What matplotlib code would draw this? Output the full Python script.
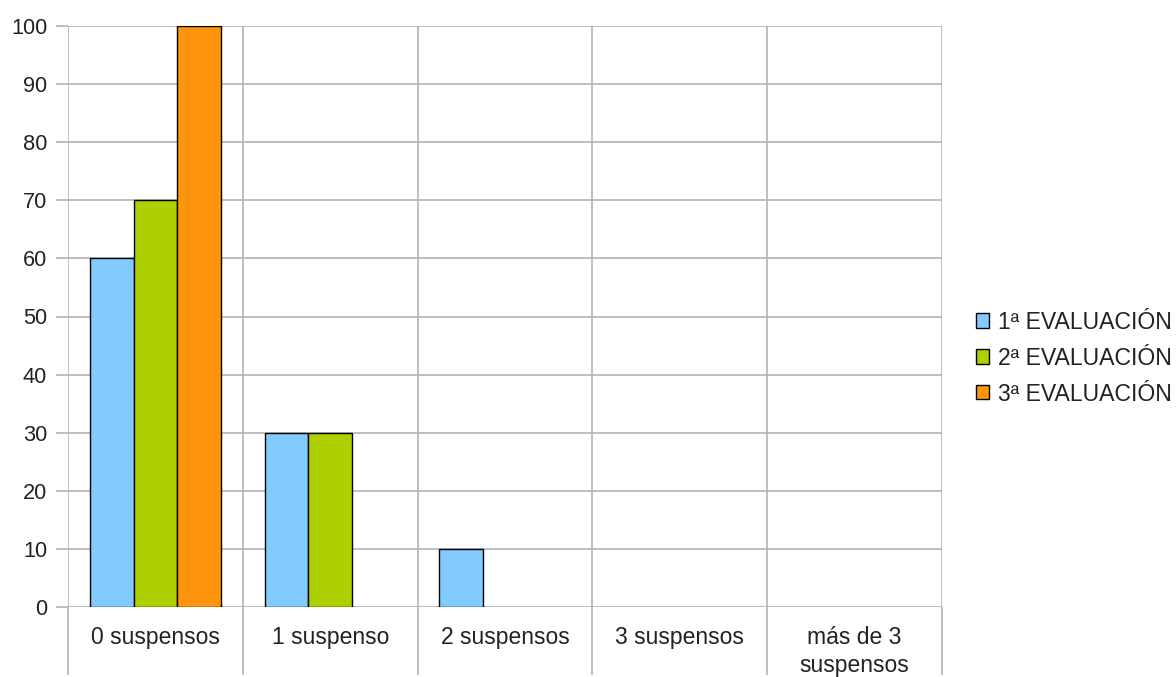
import numpy as np
import matplotlib.pyplot as plt
from matplotlib.patches import Patch

plt.rcParams['font.family'] = ['Liberation Sans', 'DejaVu Sans']

categories = ['0 suspensos', '1 suspenso', '2 suspensos', '3 suspensos', 'más de 3\nsuspensos']
series_names = ['1ª EVALUACIÓN', '2ª EVALUACIÓN', '3ª EVALUACIÓN']
eval1 = [60, 30, 10, 0, 0]
eval2 = [70, 30, 0, 0, 0]
eval3 = [100, 0, 0, 0, 0]
colors = ['#83caff', '#aecf00', '#ff950e']

fig = plt.figure(figsize=(11.76, 6.77), dpi=100)
ax = fig.add_axes([68/1176, 1-607/677, (942-68)/1176, (607-26)/677])

x = np.arange(len(categories))
w = 0.25
for i, vals in enumerate([eval1, eval2, eval3]):
    lw = [1.0 if v > 0 else 0 for v in vals]
    ax.bar(x + (i-1)*w, vals, w, color=colors[i], edgecolor='black', linewidth=lw, zorder=3)

grid_c = '#b3b3b3'
ax.set_xlim(-0.5, len(categories)-0.5)
ax.set_ylim(0, 100)
ax.set_yticks(range(0, 101, 10))
ax.yaxis.grid(True, color=grid_c, linewidth=1.2, zorder=0)

# category boundaries as long major ticks + vertical lines
bounds = np.arange(-0.5, len(categories), 1.0)
ax.set_xticks(bounds)
ax.set_xticklabels([''] * len(bounds))
ax.set_xticks(x, minor=True)
ax.set_xticklabels(categories, minor=True, fontsize=16.5, color='#222222', linespacing=1.25)
ax.tick_params(axis='x', which='major', length=49, width=1.2, color=grid_c)
ax.tick_params(axis='x', which='minor', length=0, pad=14)
ax.xaxis.grid(True, which='major', color=grid_c, linewidth=1.2, zorder=0)
ax.tick_params(axis='y', length=9, width=1.2, color=grid_c, labelsize=15.7, labelcolor='#222222', pad=6)
for s in ax.spines.values():
    s.set_visible(False)
ax.set_axisbelow(True)

handles = [Patch(facecolor=c, edgecolor='black', linewidth=1.0) for c in colors]
leg = fig.legend(handles, series_names, loc='center left', bbox_to_anchor=(0.8217, 0.471),
                 frameon=False, fontsize=16.6, handlelength=0.57, handleheight=0.57,
                 handletextpad=0.42, labelspacing=0.56, labelcolor='#222222',
                 borderaxespad=0, borderpad=0.4)

fig.savefig('out.png', dpi=100)
